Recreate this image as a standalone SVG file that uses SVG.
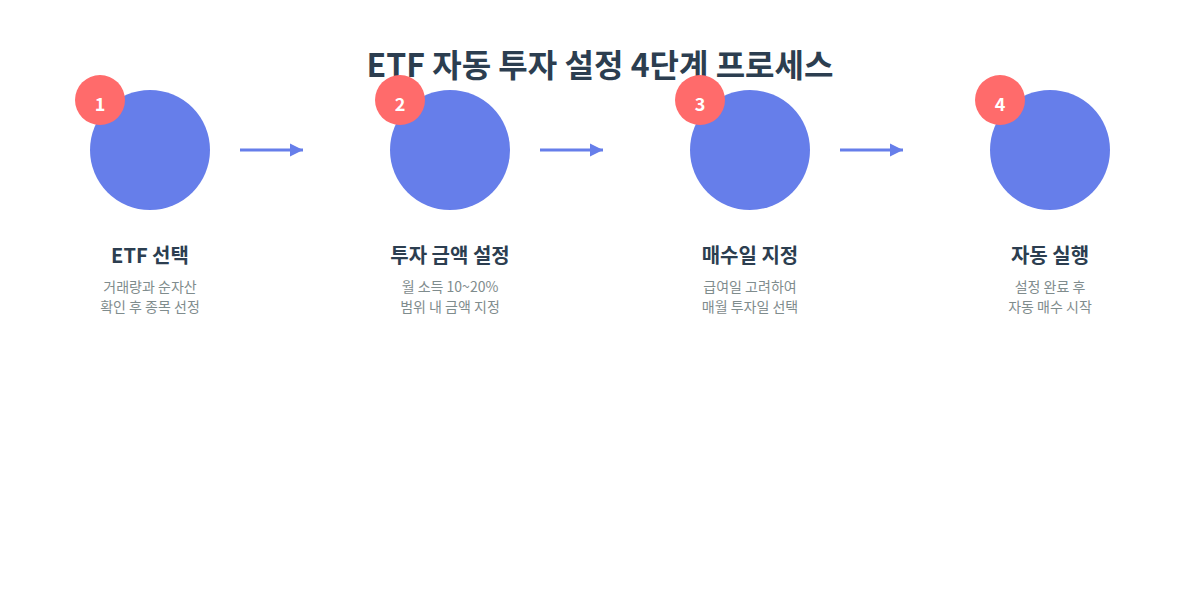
<svg xmlns="http://www.w3.org/2000/svg" width="1200" height="600" viewBox="0 0 1200 600">
<defs>
<style>
text{font-family:"Noto Sans CJK KR","Noto Sans",sans-serif}
.title{font-size:32px;font-weight:bold;fill:#2c3e50;text-anchor:middle}
.big{fill:#667eea}
.badge{fill:#ff6b6b}
.num{font-size:18px;font-weight:bold;fill:#fff;text-anchor:middle}
.label{font-size:20px;font-weight:bold;fill:#2c3e50;text-anchor:middle}
.desc{font-size:14px;fill:#7f8c8d;text-anchor:middle}
.conn{stroke:#667eea;stroke-width:3;fill:none}
</style>
<marker id="ah" viewBox="0 0 10 10" refX="10" refY="5" markerWidth="13" markerHeight="16" markerUnits="userSpaceOnUse" orient="auto"><path d="M0,0L10,5L0,10z" fill="#667eea"/></marker>
</defs>
<rect width="1200" height="600" fill="#fff"/>
<text class="title" x="600" y="77">ETF 자동 투자 설정 4단계 프로세스</text>
<g id="connectors">
<line class="conn" x1="240" y1="150" x2="303" y2="150" marker-end="url(#ah)"/>
<line class="conn" x1="540" y1="150" x2="603" y2="150" marker-end="url(#ah)"/>
<line class="conn" x1="840" y1="150" x2="903" y2="150" marker-end="url(#ah)"/>
</g>
<g id="step1">
<circle class="big" cx="150" cy="150" r="60"/>
<circle class="badge" cx="100" cy="100" r="25"/>
<text class="num" x="100" y="111">1</text>
<text class="label" x="150" y="263">ETF 선택</text>
<text class="desc" x="150" y="292">거래량과 순자산</text>
<text class="desc" x="150" y="312">확인 후 종목 선정</text>
</g>
<g id="step2">
<circle class="big" cx="450" cy="150" r="60"/>
<circle class="badge" cx="400" cy="100" r="25"/>
<text class="num" x="400" y="111">2</text>
<text class="label" x="450" y="263">투자 금액 설정</text>
<text class="desc" x="450" y="292">월 소득 10~20%</text>
<text class="desc" x="450" y="312">범위 내 금액 지정</text>
</g>
<g id="step3">
<circle class="big" cx="750" cy="150" r="60"/>
<circle class="badge" cx="700" cy="100" r="25"/>
<text class="num" x="700" y="111">3</text>
<text class="label" x="750" y="263">매수일 지정</text>
<text class="desc" x="750" y="292">급여일 고려하여</text>
<text class="desc" x="750" y="312">매월 투자일 선택</text>
</g>
<g id="step4">
<circle class="big" cx="1050" cy="150" r="60"/>
<circle class="badge" cx="1000" cy="100" r="25"/>
<text class="num" x="1000" y="111">4</text>
<text class="label" x="1050" y="263">자동 실행</text>
<text class="desc" x="1050" y="292">설정 완료 후</text>
<text class="desc" x="1050" y="312">자동 매수 시작</text>
</g>
</svg>
